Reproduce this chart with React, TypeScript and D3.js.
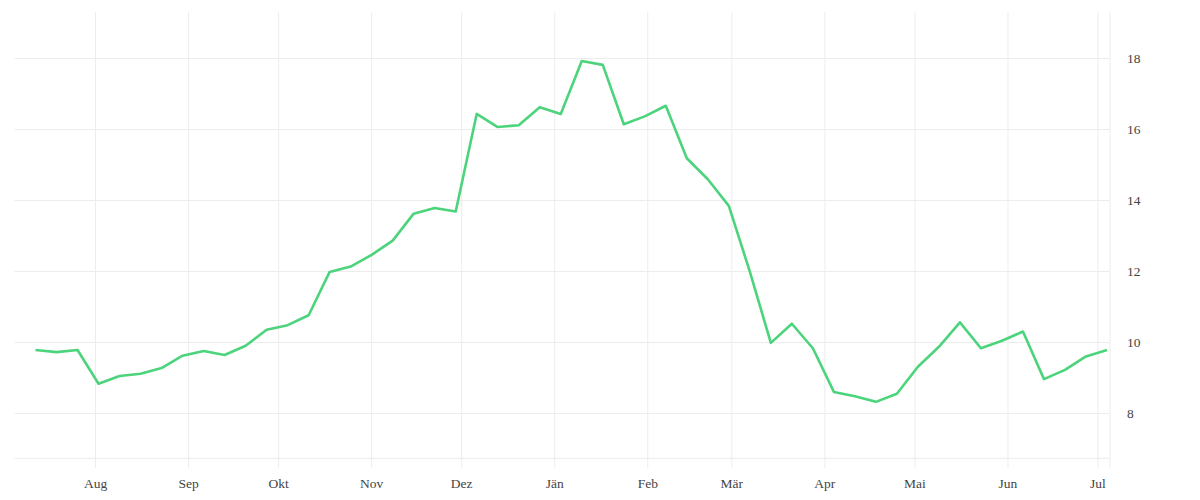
import React from "react";
import * as d3 from "d3";

const startDate = "2022-07-12";
const values: number[] = [
  9.79, 9.73, 9.79, 8.84, 9.06, 9.12, 9.28, 9.63, 9.76, 9.65,
  9.91, 10.36, 10.49, 10.77, 11.99, 12.14, 12.47, 12.87, 13.63, 13.79,
  13.69, 16.44, 16.07, 16.12, 16.63, 16.44, 17.93, 17.82, 16.15, 16.37,
  16.67, 15.19, 14.6, 13.85, 12.0, 9.99, 10.53, 9.84, 8.61, 8.49,
  8.33, 8.56, 9.32, 9.88, 10.57, 9.84, 10.05, 10.31, 8.97, 9.23,
  9.61, 9.79,
];
const monthTicks = ["2022-08-01", "2022-09-01", "2022-10-01", "2022-11-01", "2022-12-01", "2023-01-01", "2023-02-01", "2023-03-01", "2023-04-01", "2023-05-01", "2023-06-01", "2023-07-01"];
const monthLabels = ["Aug", "Sep", "Okt", "Nov", "Dez", "Jän", "Feb", "Mär", "Apr", "Mai", "Jun", "Jul"];
const yTicks = [8, 10, 12, 14, 16, 18];
const xDomain = ["2022-07-05", "2023-07-05"];
const yDomain = [6.74, 19.31];

const parse = d3.utcParse("%Y-%m-%d");

export default function App() {
  const W = 1200, H = 500;
  const left = 14.5, right = 1110, top = 12, bottom = 458.3;
  const x = d3.scaleUtc().domain(xDomain.map((s) => parse(s)!)).range([left, right]);
  const y = d3.scaleLinear().domain(yDomain).range([bottom, top]);
  const t0 = parse(startDate)!;
  const data = values.map((v, i) => ({ date: d3.utcDay.offset(t0, i * 7), v }));
  const line = d3.line<{ date: Date; v: number }>().x((d) => x(d.date)).y((d) => y(d.v));
  const grid = "#ececec";
  const font = "'Liberation Serif', serif";
  return (
    <svg width={W} height={H} style={{ position: "absolute", left: 0, top: 0, background: "#fff" }}>
      {yTicks.map((t) => (
        <line key={"h" + t} x1={left} x2={right} y1={y(t)} y2={y(t)} stroke={grid} strokeWidth={1} />
      ))}
      <line x1={left} x2={right} y1={bottom} y2={bottom} stroke={grid} strokeWidth={1} />
      {monthTicks.map((m) => (
        <line key={"v" + m} x1={x(parse(m)!)} x2={x(parse(m)!)} y1={top} y2={468} stroke={grid} strokeWidth={1} />
      ))}
      <line x1={right} x2={right} y1={top} y2={468} stroke={grid} strokeWidth={1} />
      <path d={line(data) || ""} fill="none" stroke="#4cd47c" strokeWidth={2.6} strokeLinejoin="round" />
      {monthTicks.map((m, i) => (
        <text key={"l" + m} x={x(parse(m)!)} y={488} textAnchor="middle" fontFamily={font} fontSize={13.5} fill="#444">
          {monthLabels[i]}
        </text>
      ))}
      {yTicks.map((t) => (
        <text key={"y" + t} x={1127} y={y(t)} dy="0.35em" fontFamily={font} fontSize={13.5} fill="#444">
          {t}
        </text>
      ))}
    </svg>
  );
}
